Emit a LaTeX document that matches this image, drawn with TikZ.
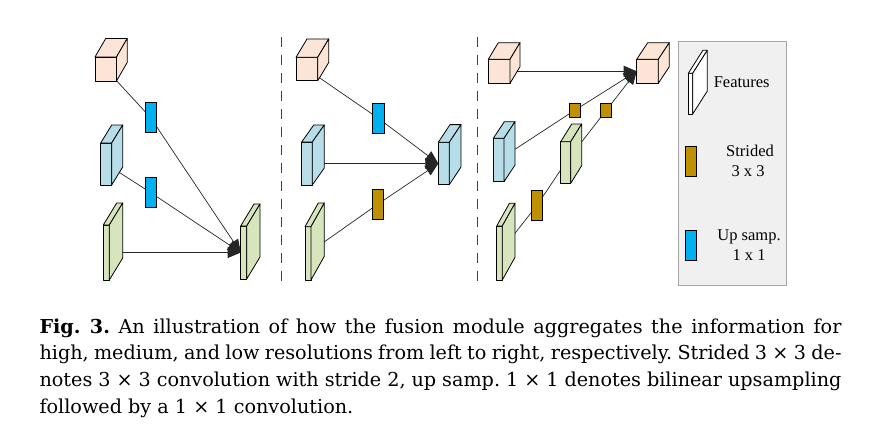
\documentclass[tikz,border=0pt]{standalone}
\usepackage{fontspec}
\setmainfont{DejaVu Serif}
\newfontfamily\legendfont{Liberation Serif}
\usetikzlibrary{arrows.meta,backgrounds}
\definecolor{peach}{RGB}{252,229,214}
\definecolor{lblue}{RGB}{183,222,232}
\definecolor{lgreen}{RGB}{216,228,188}
\definecolor{upblue}{RGB}{0,176,240}
\definecolor{gold}{RGB}{191,144,0}
\definecolor{legbg}{RGB}{240,240,240}
\definecolor{legborder}{RGB}{165,165,165}
\tikzset{
  face/.style={draw=black, line width=0.8pt, inner sep=0pt, outer sep=0pt, anchor=north west, line join=round},
  edge3d/.style={draw=black, line width=0.8pt, line join=round},
  opbox/.style={draw=black, line width=0.7pt, inner sep=0pt, outer sep=0pt, anchor=north west},
  conn/.style={draw=black!85, line width=0.7pt},
  arr/.style={conn, -{Triangle[length=13pt,width=11pt]}},
  divider/.style={draw=black!75, line width=1.5pt, dash pattern=on 10pt off 8pt},
  legtext/.style={anchor=base, inner sep=0pt, font=\legendfont\fontsize{16.5}{18}\selectfont}
}
% name, x, y, w, h, dx, dy, colour
\newcommand\mkprism[8]{%
  \node[face, fill=#8, minimum width=#4pt, minimum height=#5pt] (#1) at (#2,#3) {};
  \filldraw[edge3d, fill=#8] (#1.north west) -- ++(#6,-#7) -- ++(#4,0) -- (#1.north east) -- cycle;
  \filldraw[edge3d, fill=#8] (#1.north east) -- ++(#6,-#7) -- ++(0,#5) -- (#1.south east) -- cycle;
}
\begin{document}
\begin{tikzpicture}[x=1pt,y=-1pt]
\useasboundingbox (0,0) rectangle (873,436);

% dividers
\coordinate (d1t) at (281.7,36.7); \coordinate (d1b) at (281.7,284);
\coordinate (d2t) at (477.5,36.7); \coordinate (d2b) at (477.5,284);
\draw[divider] (d1t) -- (d1b);
\draw[divider] (d2t) -- (d2b);

% legend background
\node[draw=legborder, fill=legbg, line width=0.8pt, inner sep=0pt, outer sep=0pt, anchor=north west,
      minimum width=107.7pt, minimum height=243.3pt] (legend) at (678.3,41.7) {};

% ---------- panel 1 ----------
\mkprism{c1}{95}{57}{21.5}{24}{10.7}{18.5}{peach}
\mkprism{b1}{100.7}{143}{11}{42}{11}{18}{lblue}
\mkprism{g1}{103.3}{225}{6}{55}{13.4}{22}{lgreen}
\mkprism{t1}{240.7}{226}{6}{53}{13.3}{22}{lgreen}
\node[opbox, fill=upblue, minimum width=11pt, minimum height=29.6pt] (u1a) at (145,102.7) {};
\node[opbox, fill=upblue, minimum width=11pt, minimum height=29.6pt] (u1b) at (145,177.7) {};

% ---------- panel 2 ----------
\mkprism{c2}{296}{57.3}{21.7}{23.5}{11}{18.3}{peach}
\mkprism{b2}{301.7}{142}{10.6}{43}{12}{17}{lblue}
\mkprism{g2}{305}{226.7}{6}{53.3}{13.3}{23.7}{lgreen}
\mkprism{t2}{438.3}{142.3}{11}{42.4}{11.7}{17.7}{lblue}
\node[opbox, fill=upblue, minimum width=11.3pt, minimum height=30pt] (u2) at (372.7,103.3) {};
\node[opbox, fill=gold, minimum width=11.3pt, minimum height=30pt] (s2) at (372,189.3) {};

% ---------- panel 3 ----------
\mkprism{c3}{488.3}{59.3}{21.7}{24}{10}{16.6}{peach}
\mkprism{t3}{636.7}{59.3}{21.6}{24}{11}{16.6}{peach}
\mkprism{b3}{493.3}{138.3}{10.7}{43.4}{11}{16.6}{lblue}
\mkprism{m3}{560.7}{141.7}{10}{41.6}{11}{17.7}{lgreen}
\mkprism{g3}{496.7}{226}{5.6}{54}{12.7}{22.7}{lgreen}
\node[opbox, fill=gold, minimum width=10.7pt, minimum height=14pt] (sq1) at (569.3,103.3) {};
\node[opbox, fill=gold, minimum width=11pt, minimum height=14pt] (sq2) at (600.7,103.3) {};
\node[opbox, fill=gold, minimum width=11pt, minimum height=30pt] (s3) at (531.7,190) {};

% ---------- connectors (behind) ----------
\begin{pgfonlayer}{background}
  \draw[conn] (c1.center) -- (u1a.center);
  \draw[arr] (u1a.center) -- (t1.west);
  \draw[conn] (b1.center) -- (u1b.center);
  \draw[arr] (u1b.center) -- (t1.west);
  \draw[arr] (g1.center) -- (t1.west);

  \draw[conn] (c2.center) -- (u2.center);
  \draw[arr] (u2.center) -- (t2.west);
  \draw[arr] (b2.center) -- (t2.west);
  \draw[conn] (g2.center) -- (s2.center);
  \draw[arr] (s2.center) -- (t2.west);

  \draw[arr] (c3.center) -- (t3.west);
  \draw[conn] (b3.center) -- (sq1.center);
  \draw[arr] (sq1.center) -- (t3.west);
  \draw[conn] (m3.center) -- (sq2.center);
  \draw[arr] (sq2.center) -- (t3.west);
  \draw[conn] (g3.center) -- (s3.center);
  \draw[conn] (s3.center) -- (m3.center);
\end{pgfonlayer}

% ---------- legend ----------
\mkprism{lf}{688.3}{73.3}{4.4}{40.7}{14.6}{23}{white}
\node[legtext] (lft) at (741.7,87.3) {Features};
\node[opbox, fill=gold, minimum width=11.7pt, minimum height=30pt] (ls) at (685,146) {};
\node[legtext] (lst1) at (750,156.7) {Strided};
\node[legtext] (lst2) at (748,176.7) {3 x 3};
\node[opbox, fill=upblue, minimum width=11.7pt, minimum height=30pt] (lu) at (685,230) {};
\node[legtext] (lut1) at (749,240) {Up samp.};
\node[legtext] (lut2) at (749,260) {1 x 1};

% ---------- caption ----------
\node[anchor=base west, inner sep=0pt] (cap) at (39.3,333.3) {\parbox[t]{802pt}{\fontsize{19.2}{26.6}\selectfont\frenchspacing
\textbf{Fig. 3.} An illustration of how the fusion module aggregates the information for\linebreak
high, medium, and low resolutions from left to right, respectively. Strided 3 × 3 de-\linebreak
notes 3 × 3 convolution with stride 2, up samp. 1 × 1 denotes bilinear upsampling\linebreak
followed by a 1 × 1 convolution.}};
\end{tikzpicture}
\end{document}
